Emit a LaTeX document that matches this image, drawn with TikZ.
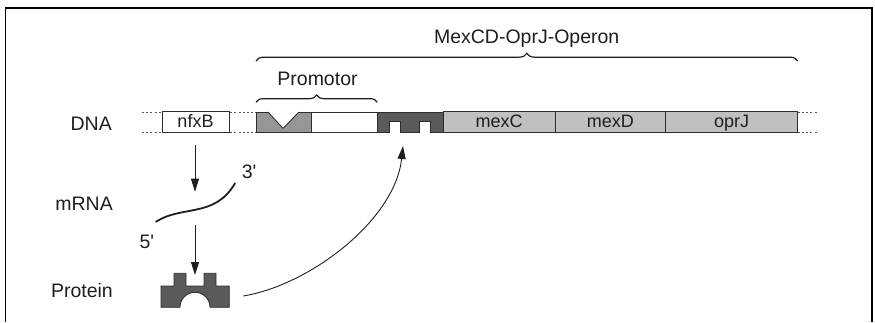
\documentclass[tikz,border=0pt]{standalone}
\usepackage{fontspec}
\setmainfont{Liberation Sans}
\usetikzlibrary{arrows.meta,decorations.pathreplacing}
\definecolor{txt}{RGB}{30,30,30}
\definecolor{lgray}{RGB}{192,192,196}
\definecolor{mgray}{RGB}{150,150,150}
\definecolor{dgray}{RGB}{90,90,90}
\definecolor{edge}{RGB}{45,45,45}
\begin{document}
\begin{tikzpicture}[x=1pt,y=1pt,
  lbl/.style={font=\fontsize{19.5}{22}\selectfont, text=txt, inner sep=0pt},
  gene/.style={draw=edge, line width=0.9pt, minimum height=20.3pt, inner sep=0pt, outer sep=0pt,
    font=\fontsize{18}{20}\selectfont, text=txt, anchor=west, text height=13pt, text depth=3pt},
  dots/.style={draw=edge!80, line width=0.9pt, dash pattern=on 2pt off 2.2pt},
  arr/.style={draw=txt, line width=0.9pt, -{Triangle[length=13pt,width=8pt]}},
  brc/.style={draw=txt, line width=1.2pt, decorate, decoration={brace, amplitude=7.5pt}},
  blk/.style={draw=edge, line width=0.9pt},
]
\useasboundingbox (0,0) rectangle (875,-322);
% frame
\draw[line width=1.3pt] (5.5,-322) -- (5.5,-8) -- (872,-8) -- (872,-322);

% dotted continuation of the DNA strand
\draw[dots] (142,-112) -- (256,-112);
\draw[dots] (142,-132) -- (256,-132);
\draw[dots] (797.7,-112) -- (817,-112);
\draw[dots] (797.7,-132) -- (817,-132);

% nfxB gene
\node[gene, fill=white, minimum width=67pt] (nfxb) at (162,-122) {nfxB};

% promoter: grey part with V notch, white part
\path[blk, fill=mgray] (256,-112) rectangle (311,-132);
\draw[blk, fill=white] (268,-112) -- (283,-128.3) -- (299,-112);
\path[blk, fill=white] (311,-112) rectangle (377,-132);
% operator (dark block with two notches)
\path[blk, fill=dgray] (377,-112) -- (443.3,-112) -- (443.3,-132) -- (430.7,-132) -- (430.7,-121.7)
  -- (419,-121.7) -- (419,-132) -- (400,-132) -- (400,-121.7) -- (389,-121.7) -- (389,-132)
  -- (377,-132) -- cycle;
\coordinate (optarget) at (403,-146);

% genes of the operon
\node[gene, fill=lgray, minimum width=111.7pt] (mexc) at (443.3,-122) {mexC};
\node[gene, fill=lgray, minimum width=110.7pt] (mexd) at (555,-122) {mexD};
\node[gene, fill=lgray, minimum width=132pt] (oprj) at (665.7,-122) {oprJ};

% braces
\draw[brc, decoration={amplitude=7.3pt}] (256,-102.3) -- (377.3,-102.3);
\draw[brc, decoration={amplitude=7.7pt}] (256,-61) -- (797.7,-61);

% labels
\node[lbl, anchor=base] (operon) at (526.7,-43.3) {MexCD-OprJ-Operon};
\node[lbl, anchor=base] (promotor) at (317.5,-85) {Promotor};
\node[lbl, anchor=base east] (dna) at (112,-130) {DNA};
\node[lbl, anchor=base east] (mrna) at (113,-210.7) {mRNA};
\node[lbl, anchor=base east] (protein) at (113,-297) {Protein};
\node[lbl, anchor=base west] (three) at (241.7,-178.3) {3\textquotesingle};
\node[lbl, anchor=base west] (five) at (139.3,-248.3) {5\textquotesingle};

% mRNA
\coordinate (m5) at (156,-221.7);
\coordinate (m3) at (235,-183.3);
\draw[txt, line width=1.8pt, line cap=round] (m5) .. controls (182,-205) and (215,-218) .. (m3);

% protein
\path[draw=edge, line width=0.8pt, fill=dgray] (161,-307.3) -- (161,-286) -- (174,-286) -- (174,-273.3)
  -- (186,-273.3) -- (186,-286) -- (204,-286) -- (204,-273.3) -- (216,-273.3) -- (216,-286)
  -- (229.3,-286) -- (229.3,-307.3) -- (210,-307.3) arc[start angle=0, end angle=180, radius=15]
  -- cycle;
\coordinate (protR) at (243.3,-296);

% arrows
\coordinate (a1s) at (195,-145);
\coordinate (a1e) at (195,-191.7);
\coordinate (a2s) at (195,-225);
\coordinate (a2e) at (195,-275);
\draw[arr] (a1s) -- (a1e);
\draw[arr] (a2s) -- (a2e);
\draw[arr] (protR) .. controls (310,-285) and (395,-220) .. (optarget);
\end{tikzpicture}
\end{document}
